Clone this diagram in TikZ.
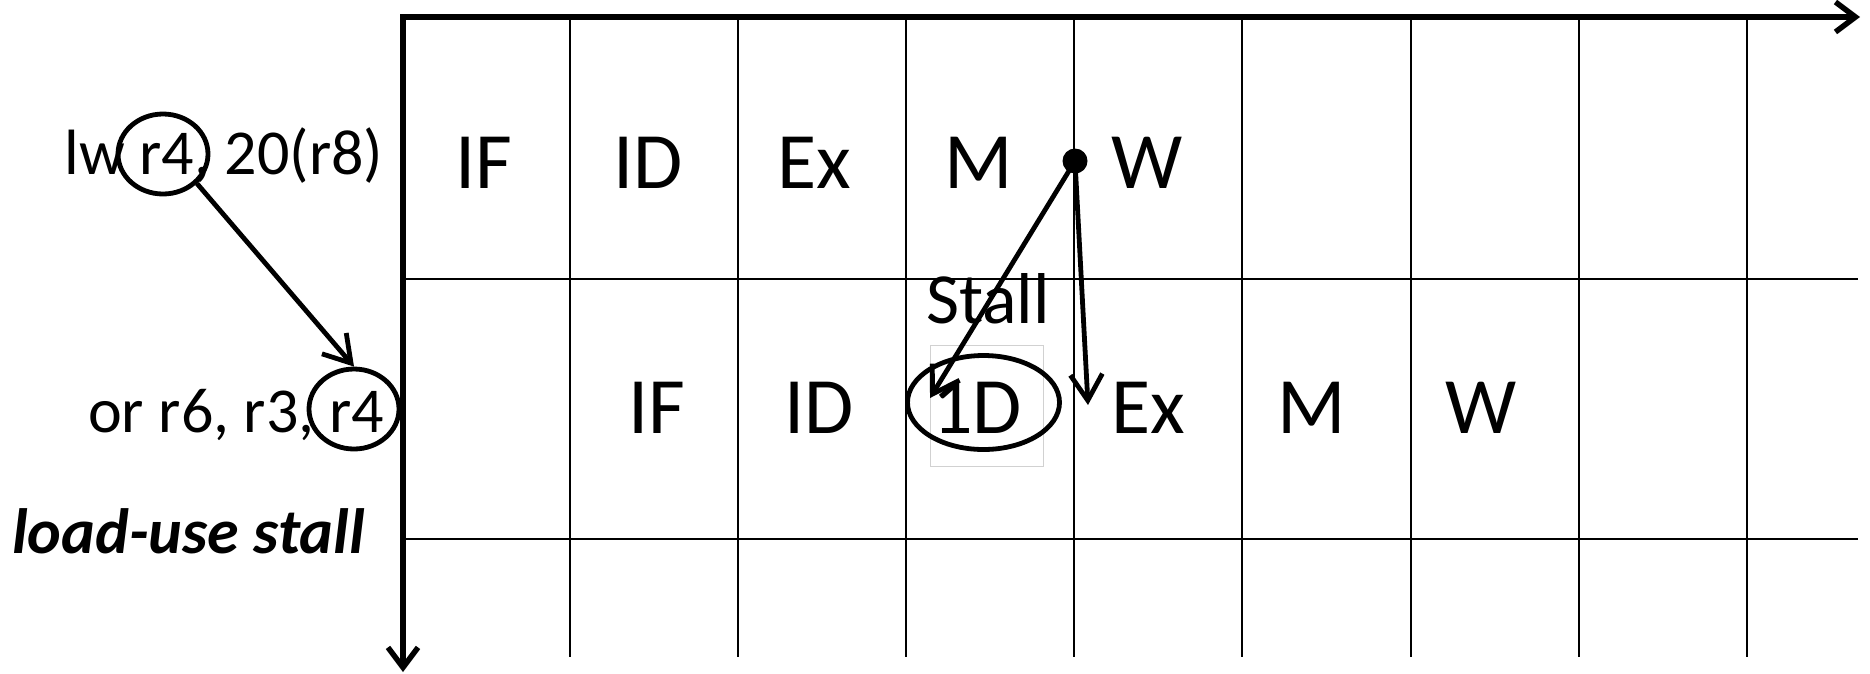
\documentclass[tikz,border=0pt]{standalone}
\usepackage{fontspec}
\setmainfont{Carlito}
\usetikzlibrary{arrows.meta,shapes.geometric}
\begin{document}
\begin{tikzpicture}[x=1pt,y=-1pt,
  axis/.style={line width=5.5pt,-{Straight Barb[length=20pt,width=30pt]}},
  gridline/.style={line width=2.3pt},
  stage/.style={font=\fontsize{80}{96}\selectfont, inner sep=0pt, anchor=base},
  instr/.style={font=\fontsize{64}{77}\selectfont, inner sep=0pt, anchor=base},
  ring/.style={ellipse, draw, line width=4.8pt, inner sep=0pt},
  conn/.style={line width=4.8pt, -{Straight Barb[length=26pt,width=32pt]}},
]
\useasboundingbox (0,0) rectangle (1870,673);

% grid
\foreach \x in {570,738,906,1074,1242,1411,1579,1747}
  \draw[gridline] (\x,17) -- (\x,657);
\foreach \y in {279,539}
  \draw[gridline] (403,\y) -- (1858,\y);

% axes
\coordinate (O) at (403,17);
\coordinate (Ostart) at (400.3,17);
\coordinate (X) at (1860,17);
\coordinate (Y) at (403,672);
\draw[axis] (Ostart) -- (X);
\draw[axis] (O) -- (Y);

% left labels
\node[instr] (lw) at (224,174) {lw r4, 20(r8)};
\node[instr, anchor=base east] (orr) at (384,432) {or r6, r3, r4};
\node[instr, anchor=base west, font=\fontsize{64}{77}\selectfont\bfseries\itshape] (lus) at (12,553) {load-use stall};
\node[ring, minimum width=90pt, minimum height=80pt] (e1) at (163,154) {};
\node[ring, minimum width=90pt, minimum height=80pt] (e2) at (354,409) {};
\draw[conn] (e1.-41) -- (e2.north);

% row 1
\node[stage] (r1a) at (484,188) {IF};
\node[stage] (r1b) at (648,188) {ID};
\node[stage] (r1c) at (814,188) {Ex};
\node[stage] (r1d) at (979,188) {M};
\node[stage] (r1e) at (1147,188) {W};

% row 2
\node[stage] (r2a) at (657,433) {IF};
\node[stage] (r2b) at (819,433) {ID};
\node[draw=black!18, line width=1pt, minimum width=113pt, minimum height=121pt, inner sep=0pt] (box1D) at (986.5,405.5) {};
\node[stage] (r2c) at (977,433) {1D};
\node[ring, minimum width=152pt, minimum height=94pt] (ell1D) at (983.5,402.5) {};
\node[stage] (r2d) at (1148,433) {Ex};
\node[stage] (r2e) at (1312,433) {M};
\node[stage] (r2f) at (1481,433) {W};

\node[stage, font=\fontsize{72}{86}\selectfont] (stall) at (988,323) {Stall};

% forwarding arrows
\node[circle, fill, inner sep=0pt, minimum size=25pt] (dot) at (1075,161) {};
\coordinate (t1) at (930,398);
\coordinate (t2) at (1088,405);
\draw[conn] (dot.center) -- (t1);
\draw[conn] (dot.center) -- (t2);
\end{tikzpicture}
\end{document}
